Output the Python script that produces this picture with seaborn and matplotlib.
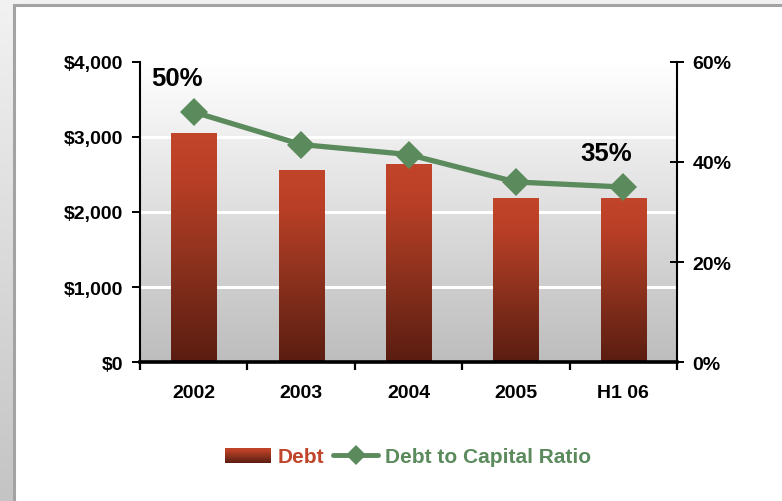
import numpy as np
import pandas as pd
import matplotlib
matplotlib.use("Agg")
import matplotlib.pyplot as plt
import seaborn as sns
from matplotlib.colors import LinearSegmentedColormap
from matplotlib.patches import Rectangle
from matplotlib.lines import Line2D
from matplotlib.legend_handler import HandlerBase

# ---- data -------------------------------------------------------------
years = ["2002", "2003", "2004", "2005", "H1 06"]
debt = [3050, 2560, 2640, 2190, 2190]          # $ millions
ratio = [50, 43.5, 41.5, 36, 35]               # debt to capital, %
debt_ticks = [0, 1000, 2000, 3000, 4000]
debt_tick_labels = ["$0", "$1,000", "$2,000", "$3,000", "$4,000"]
ratio_ticks = [0, 20, 40, 60]
ratio_tick_labels = ["0%", "20%", "40%", "60%"]
callouts = {"2002": "50%", "H1 06": "35%"}

BAR_TOP = "#c1452a"
BAR_BOTTOM = "#5a1d11"
GREEN = "#5b8a5c"

sns.set_theme(style="white")
plt.rcParams["font.family"] = ["Liberation Sans", "DejaVu Sans"]
plt.rcParams["font.weight"] = "bold"

bar_cmap = LinearSegmentedColormap.from_list(
    "debt", [(0.0, BAR_BOTTOM), (0.45, "#8e321e"), (0.8, "#b93f26"), (1.0, BAR_TOP)])
bg_cmap = LinearSegmentedColormap.from_list("bg", [(0, "#bdbdbd"), (1, "#ffffff")])
frame_cmap = LinearSegmentedColormap.from_list("frame", [(0, "#c4c4c4"), (1, "#f2f2f2")])

W, H = 782, 502
fig = plt.figure(figsize=(W / 100, H / 100), dpi=100)

# ---- slide frame behind the chart -------------------------------------
bg_ax = fig.add_axes([0, 0, 1, 1], zorder=-5)
bg_ax.set_xlim(0, W)
bg_ax.set_ylim(0, H)
bg_ax.axis("off")
grad = np.linspace(0, 1, 256).reshape(-1, 1)
bg_ax.imshow(grad, cmap=frame_cmap, origin="lower", extent=[0, W, 0, H], aspect="auto")
bg_ax.add_patch(Rectangle((14, -20), W + 40, H - 6 + 20, facecolor="white",
                          edgecolor="#a3a3a3", linewidth=2.2))

# ---- main axes ----------------------------------------------------------
ax = fig.add_axes([140 / W, 1 - 363 / H, (677 - 140) / W, (363 - 63) / H])
ax.patch.set_visible(False)

df = pd.DataFrame({"year": years, "debt": debt, "ratio": ratio})
sns.barplot(data=df, x="year", y="debt", ax=ax, width=0.42, color=BAR_TOP,
            saturation=1, zorder=2)

ax.set_xlim(-0.5, len(years) - 0.5)
ax.set_ylim(0, 4000)

# plot-area gradient
ax.imshow(grad, cmap=bg_cmap, origin="lower", extent=[0, 1, 0, 1],
          transform=ax.transAxes, aspect="auto", zorder=0)
# white gridlines
for v in debt_ticks[1:-1]:
    ax.axhline(v, color="white", linewidth=2.2, zorder=1)

# vertical gradient fill for each bar
for p in ax.patches:
    x0, y0 = p.get_x(), p.get_y()
    w, h = p.get_width(), p.get_height()
    im = ax.imshow(grad, cmap=bar_cmap, origin="lower",
                   extent=[x0, x0 + w, y0, y0 + h], aspect="auto", zorder=2)
    im.set_clip_path(p)
    p.set_facecolor("none")
    p.set_edgecolor("none")
ax.set_aspect("auto")
ax.set_xlim(-0.5, len(years) - 0.5)
ax.set_ylim(0, 4000)

ax.set_xlabel("")
ax.set_ylabel("")
ax.set_yticks(debt_ticks)
ax.set_yticklabels(debt_tick_labels, fontsize=14, fontweight="bold")
ax.set_xticks(range(len(years)))
ax.set_xticklabels(years, fontsize=14, fontweight="bold")
ax.set_xticks(np.arange(-0.5, len(years)), minor=True)
ax.tick_params(axis="x", which="major", length=0, pad=16, colors="black")
ax.tick_params(axis="x", which="minor", length=6, width=1.6, direction="out",
               color="black", bottom=True)
ax.tick_params(axis="y", length=6, width=1.4, direction="out", pad=6,
               left=True, colors="black")
for side in ["top", "right"]:
    ax.spines[side].set_visible(False)
ax.spines["left"].set_linewidth(1.5)
ax.spines["left"].set_color("black")
ax.spines["bottom"].set_linewidth(2.6)
ax.spines["bottom"].set_color("black")
ax.spines["bottom"].set_zorder(5)

# ---- ratio line on secondary axis ---------------------------------------
ax2 = ax.twinx()
sns.lineplot(data=df, x="year", y="ratio", ax=ax2, color=GREEN, linewidth=3.8,
             marker="D", markersize=14, markeredgewidth=0, sort=False, legend=False)
ax2.set_ylim(0, 60)
ax2.set_xlim(-0.5, len(years) - 0.5)
ax2.set_ylabel("")
ax2.set_yticks(ratio_ticks)
ax2.set_yticklabels(ratio_tick_labels, fontsize=14, fontweight="bold")
ax2.tick_params(axis="y", length=10, width=1.4, direction="inout", pad=6,
                right=True, colors="black")
for side in ["top", "left", "bottom"]:
    ax2.spines[side].set_visible(False)
ax2.spines["right"].set_linewidth(1.5)
ax2.spines["right"].set_color("black")

for i, yr in enumerate(years):
    if yr in callouts:
        ax2.annotate(callouts[yr], (i, ratio[i]), xytext=(-17, 34),
                     textcoords="offset pixels", ha="center", va="center",
                     fontsize=18.5, fontweight="bold", color="black")


# ---- legend ---------------------------------------------------------------
class GradientHandler(HandlerBase):
    def create_artists(self, legend, orig_handle, xdescent, ydescent, width,
                       height, fontsize, trans):
        n = 30
        artists = []
        for k in range(n):
            c = bar_cmap((k + 0.5) / n)
            r = Rectangle((-xdescent, -ydescent + height * k / n), width,
                          height / n + 0.05, facecolor=c, edgecolor="none",
                          transform=trans)
            artists.append(r)
        return artists


debt_handle = Rectangle((0, 0), 1, 1, facecolor=BAR_TOP)
ratio_handle = Line2D([], [], color=GREEN, linewidth=3.5, marker="D",
                      markersize=10, markeredgewidth=0)
leg = fig.legend([debt_handle, ratio_handle], ["Debt", "Debt to Capital Ratio"],
                 loc="center", bbox_to_anchor=(0.522, 1 - 458 / H), ncol=2,
                 frameon=False, prop={"size": 15, "weight": "bold"},
                 handlelength=2.2, handleheight=0.75, handletextpad=0.33,
                 columnspacing=0.4,
                 handler_map={Rectangle: GradientHandler()})
for txt, col in zip(leg.get_texts(), [BAR_TOP, GREEN]):
    txt.set_color(col)

fig.savefig("out.png", dpi=100)
